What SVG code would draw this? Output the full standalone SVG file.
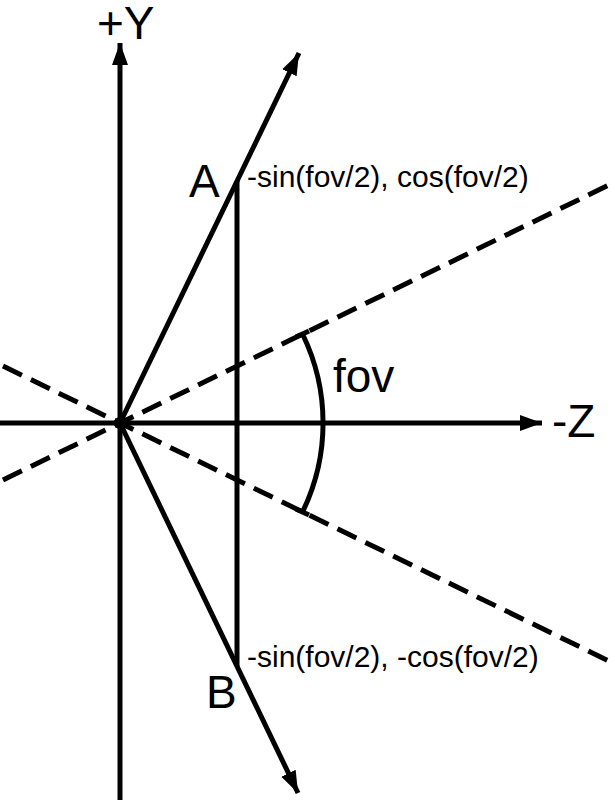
<svg xmlns="http://www.w3.org/2000/svg" width="615" height="801" viewBox="0 0 615 801">
<style>
.ln{stroke:#000;stroke-width:5;fill:none}
.ds{stroke:#000;stroke-width:5;fill:none;stroke-dasharray:21 10}
.big{font-family:"Liberation Sans",Arial,sans-serif;font-size:46px;fill:#000}
.sm{font-family:"Liberation Sans",Arial,sans-serif;font-size:30px;fill:#000}
</style>
<defs>
<marker id="ah" markerUnits="userSpaceOnUse" markerWidth="24" markerHeight="18" refX="22" refY="8" orient="auto">
<path d="M0,0 L22,8 L0,16 Z" fill="#000"/>
</marker>
</defs>
<rect width="615" height="801" fill="#fff"/>
<g id="connectors">
<line class="ds" x1="3" y1="480" x2="611" y2="184"/>
<line class="ds" x1="3" y1="366" x2="611" y2="662"/>
<line class="ln" x1="120" y1="800" x2="120" y2="43" marker-end="url(#ah)"/>
<line class="ln" x1="0" y1="423" x2="542" y2="423" marker-end="url(#ah)"/>
<line class="ln" x1="120" y1="423" x2="299" y2="53" marker-end="url(#ah)"/>
<line class="ln" x1="120" y1="423" x2="298" y2="793" marker-end="url(#ah)"/>
<line class="ln" x1="237" y1="181" x2="237" y2="666"/>
<path class="ln" d="M302.5,334 A203,203 0 0 1 302.5,512"/>
<line class="ln" x1="296" y1="337" x2="309" y2="331"/>
<line class="ln" x1="296" y1="509" x2="309" y2="515"/>
<circle cx="120" cy="423" r="6" fill="#000"/>
</g>
<g id="label-y"><text class="big" x="97" y="39">+Y</text></g>
<g id="label-z"><text class="big" x="552" y="437">-Z</text></g>
<g id="label-fov"><text class="big" x="333" y="392">fov</text></g>
<g id="node-a">
<text class="big" x="189" y="197">A</text>
<text class="sm" x="247" y="187">-sin(fov/2), cos(fov/2)</text>
</g>
<g id="node-b">
<text class="big" x="206" y="708">B</text>
<text class="sm" x="247" y="667">-sin(fov/2), -cos(fov/2)</text>
</g>
</svg>
